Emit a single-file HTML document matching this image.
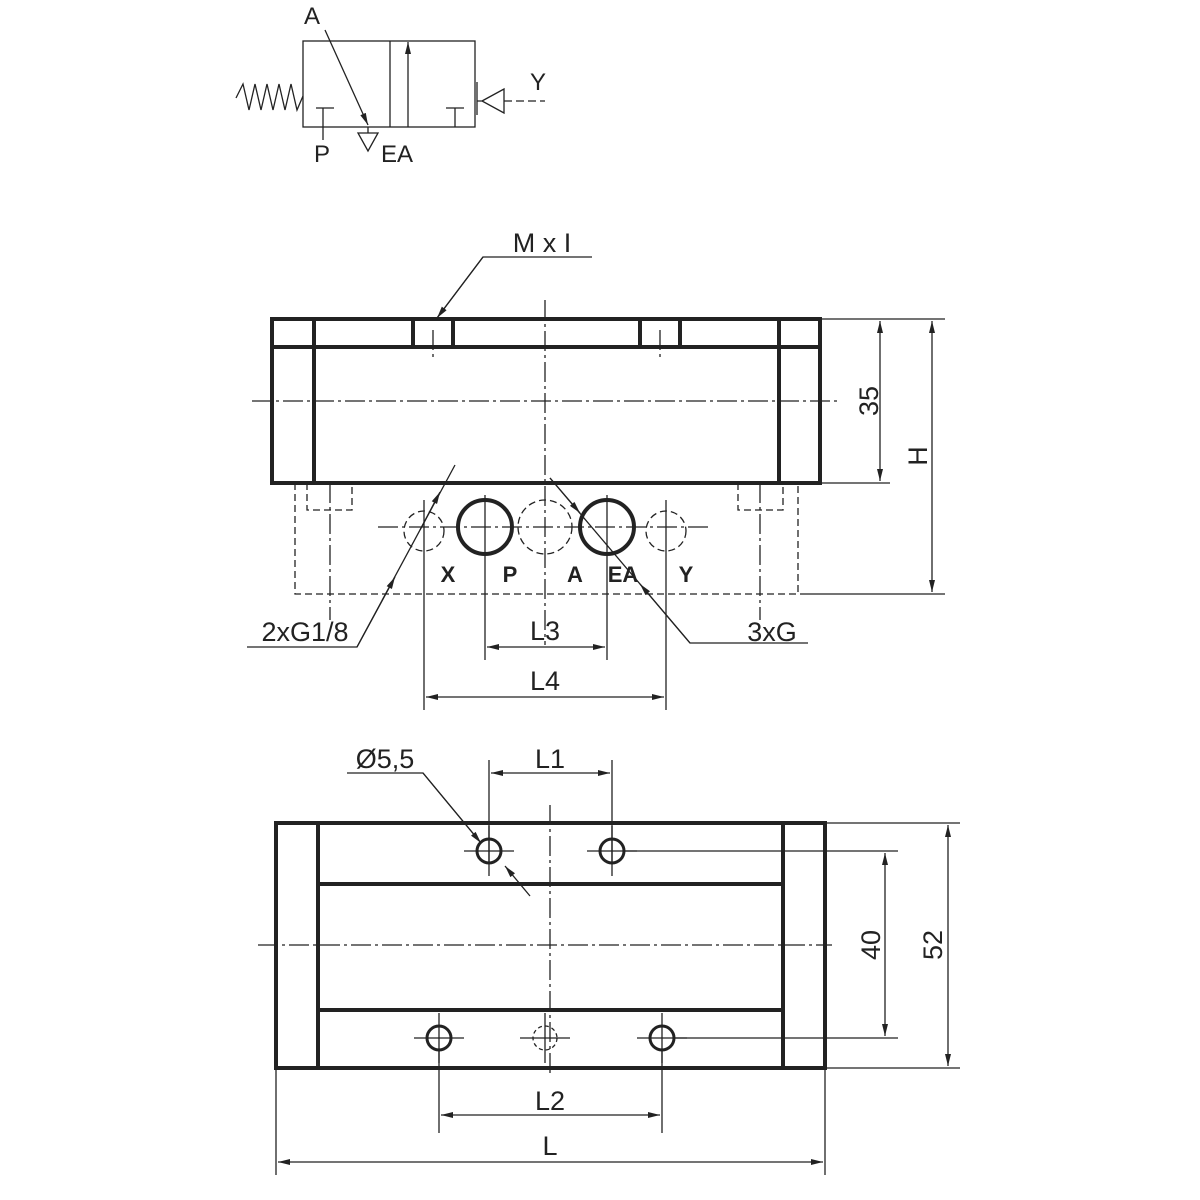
<!DOCTYPE html>
<html><head><style>body{margin:0;background:#fff}svg{display:block}text{font-family:"Liberation Sans",sans-serif;fill:#222}</style></head><body>
<svg width="1200" height="1200" viewBox="0 0 1200 1200" xmlns="http://www.w3.org/2000/svg">
<defs>
<marker id="a" viewBox="0 0 12 6" refX="12" refY="3" markerWidth="18" markerHeight="6" markerUnits="userSpaceOnUse" orient="auto-start-reverse"><path d="M0,0L12,3L0,6z" fill="#222"/></marker>
</defs>
<g stroke="#222" fill="none" stroke-width="1.3">
<!-- symbol -->
<rect x="303" y="41" width="172" height="86"/>
<line x1="390" y1="41" x2="390" y2="127"/>
<line x1="325" y1="30" x2="368" y2="125" marker-end="url(#a)"/>
<line x1="408" y1="127" x2="408" y2="42" marker-end="url(#a)"/>
<line x1="316" y1="108" x2="334" y2="108"/><line x1="323" y1="108" x2="323" y2="140"/>
<line x1="446" y1="108" x2="464" y2="108"/><line x1="455" y1="108" x2="455" y2="127"/>
<path d="M368,127V133M358,133H378L368,151Z"/>
<path d="M236,98L243,84L249,110L255,84L261,110L267,84L273,110L279,84L285,110L291,84L297,110L303,96"/>
<line x1="477" y1="82" x2="477" y2="115"/>
<path d="M477,101H482M482,101L504,89V113Z"/>
<path d="M504,101H545" stroke-dasharray="8,4"/>
<!-- front view -->
<rect x="272" y="319" width="548" height="164" stroke-width="4"/>
<line x1="272" y1="347" x2="820" y2="347" stroke-width="4"/>
<line x1="314" y1="319" x2="314" y2="483" stroke-width="4"/>
<line x1="779" y1="319" x2="779" y2="483" stroke-width="4"/>
<rect x="413" y="319" width="40" height="28" stroke-width="4"/>
<rect x="640" y="319" width="40" height="28" stroke-width="4"/>
<g stroke-dasharray="20,4,3,4">
<line x1="545" y1="300" x2="545" y2="645"/>
<line x1="252" y1="401" x2="840" y2="401"/>
<line x1="433" y1="330" x2="433" y2="360"/><line x1="660" y1="330" x2="660" y2="360"/>
<line x1="330" y1="483" x2="330" y2="620"/><line x1="760" y1="483" x2="760" y2="620"/>
<line x1="378" y1="527" x2="708" y2="527"/>
</g>
<g stroke-dasharray="7,4">
<path d="M295,483V594H798V483"/>
<path d="M307,483V510H352V483M738,483V510H783V483"/>
<circle cx="424" cy="531" r="20"/><circle cx="545" cy="527" r="27"/><circle cx="666" cy="531" r="20"/>
</g>
<circle cx="485" cy="527" r="27" stroke-width="4"/>
<circle cx="607" cy="527" r="27" stroke-width="4"/>
<line x1="485" y1="495" x2="485" y2="660"/><line x1="607" y1="495" x2="607" y2="660"/>
<line x1="424" y1="500" x2="424" y2="710"/><line x1="666" y1="500" x2="666" y2="710"/>
<line x1="487" y1="647" x2="605" y2="647" marker-start="url(#a)" marker-end="url(#a)"/>
<line x1="426" y1="697" x2="664" y2="697" marker-start="url(#a)" marker-end="url(#a)"/>
<path d="M820,319H890M820,483H890M800,594H945M820,319H945"/>
<line x1="880" y1="321" x2="880" y2="481" marker-start="url(#a)" marker-end="url(#a)"/>
<line x1="932" y1="321" x2="932" y2="592" marker-start="url(#a)" marker-end="url(#a)"/>
<path d="M592,257H483L437,318" />
<line x1="483" y1="257" x2="437" y2="318" marker-end="url(#a)"/>
<path d="M247,647H357L455,465"/>
<line x1="357" y1="647" x2="395" y2="577" marker-end="url(#a)"/>
<line x1="420" y1="530" x2="440" y2="492" marker-end="url(#a)"/>
<path d="M808,643H690L550,478"/>
<line x1="690" y1="643" x2="640" y2="584" marker-end="url(#a)"/>
<line x1="550" y1="478" x2="580" y2="513" marker-end="url(#a)"/>
<!-- bottom view -->
<rect x="276" y="823" width="549" height="245" stroke-width="4"/>
<line x1="318" y1="823" x2="318" y2="1068" stroke-width="4"/>
<line x1="783" y1="823" x2="783" y2="1068" stroke-width="4"/>
<line x1="318" y1="884" x2="783" y2="884" stroke-width="4"/>
<line x1="318" y1="1010" x2="783" y2="1010" stroke-width="4"/>
<g stroke-dasharray="20,4,3,4">
<line x1="258" y1="945" x2="832" y2="945"/>
<line x1="550" y1="805" x2="550" y2="1075"/>
</g>
<circle cx="489" cy="851" r="12" stroke-width="3"/><circle cx="612" cy="851" r="12" stroke-width="3"/>
<circle cx="439" cy="1038" r="12" stroke-width="3"/><circle cx="662" cy="1038" r="12" stroke-width="3"/>
<circle cx="545" cy="1038" r="12" stroke-dasharray="4,3"/>
<path d="M464,851H514M587,851H637M414,1038H464M520,1038H570M637,1038H687M489,826V876M612,826V876M439,1013V1063M545,1013V1063M662,1013V1063"/>
<path d="M489,760V863M612,760V863"/>
<line x1="491" y1="773" x2="610" y2="773" marker-start="url(#a)" marker-end="url(#a)"/>
<path d="M347,773H423L481,843"/>
<line x1="423" y1="773" x2="481" y2="843" marker-end="url(#a)"/>
<line x1="530" y1="896" x2="505" y2="866" marker-end="url(#a)"/>
<path d="M624,851H898M674,1038H898M825,823H960M825,1068H960"/>
<line x1="885" y1="853" x2="885" y2="1036" marker-start="url(#a)" marker-end="url(#a)"/>
<line x1="948" y1="825" x2="948" y2="1066" marker-start="url(#a)" marker-end="url(#a)"/>
<path d="M439,1050V1133M662,1050V1133M276,1068V1175M825,1068V1175"/>
<line x1="441" y1="1115" x2="660" y2="1115" marker-start="url(#a)" marker-end="url(#a)"/>
<line x1="278" y1="1162" x2="823" y2="1162" marker-start="url(#a)" marker-end="url(#a)"/>
</g>
<g font-size="27" text-anchor="middle">
<text x="312" y="24" font-size="24">A</text>
<text x="322" y="162" font-size="24">P</text>
<text x="397" y="162" font-size="24">EA</text>
<text x="538" y="90" font-size="24">Y</text>
<text x="542" y="252">M x I</text>
<text x="448" y="582" font-size="22" font-weight="bold">X</text>
<text x="510" y="582" font-size="22" font-weight="bold">P</text>
<text x="575" y="582" font-size="22" font-weight="bold">A</text>
<text x="623" y="582" font-size="22" font-weight="bold">EA</text>
<text x="686" y="582" font-size="22" font-weight="bold">Y</text>
<text x="305" y="641">2xG1/8</text>
<text x="772" y="641">3xG</text>
<text x="545" y="640">L3</text>
<text x="545" y="690">L4</text>
<text transform="translate(878,401) rotate(-90)">35</text>
<text transform="translate(927,456) rotate(-90)">H</text>
<text x="385" y="768">Ø5,5</text>
<text x="550" y="768">L1</text>
<text transform="translate(880,945) rotate(-90)">40</text>
<text transform="translate(942,945) rotate(-90)">52</text>
<text x="550" y="1110">L2</text>
<text x="550" y="1155">L</text>
</g>
</svg>
</body></html>
